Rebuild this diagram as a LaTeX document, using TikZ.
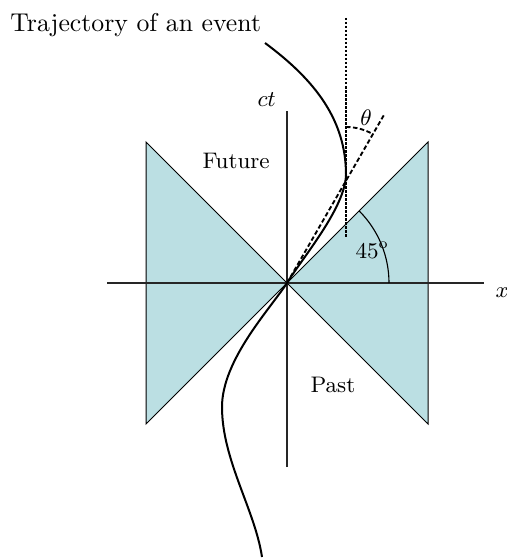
\documentclass[tikz,border=0pt]{standalone}
\usepackage{tikz}
\usetikzlibrary{calc}
\definecolor{conefill}{RGB}{187,223,227}
\begin{document}
\begin{tikzpicture}[x=0.4pt,y=0.4pt,
  cone/.style={fill=conefill,draw=black,line width=0.4pt},
  axis/.style={draw=black!85,line width=0.45pt},
  traj/.style={line width=0.8pt},
  tangent/.style={line width=0.75pt,dash pattern=on 1.8pt off 1pt},
  vert/.style={line width=1pt,dash pattern=on 1pt off 0.6pt},
  lbl/.style={inner sep=0pt,font=\fontsize{9}{11}\selectfont}]
\useasboundingbox (0,0) rectangle (506,-559);
% key coordinates
\coordinate (O) at (287,-283);
\coordinate (RT) at (428,-142);
\coordinate (RB) at (428,-424);
\coordinate (LT) at (146,-142);
\coordinate (LB) at (146,-424);
\coordinate (xl) at (107,-283);
\coordinate (xr) at (484,-283);
\coordinate (yb) at (287,-467);
\coordinate (yt) at (287,-111);
\coordinate (vt) at (346,-18);
\coordinate (vb) at (346,-237);
\coordinate (T) at (346,-181);
\coordinate (te) at (384.5,-114);
\coordinate (c0) at (265,-43);
\coordinate (c1) at (346,-175);
\coordinate (c3) at (222,-407);
\coordinate (c4) at (262,-557);
% cones
\path[cone] (O) -- (RT) -- (RB) -- cycle;
\path[cone] (O) -- (LT) -- (LB) -- cycle;
% axes
\draw[axis] (xl) -- (xr);
\draw[axis] (yb) -- (yt);
% 45 degree arc
\draw[line width=0.45pt] ($(O)+(102,0)$) arc[start angle=0,end angle=45,radius=102];
% trajectory
\draw[traj] (c0) .. controls (315,-80) and (346,-120) .. (c1)
  .. controls (345,-208) and (303,-257) .. (O)
  .. controls (270,-309) and (222,-360) .. (c3)
  .. controls (222,-460) and (255,-510) .. (c4);
% vertical dotted line and tangent
\draw[vert] (vt) -- (vb);
\draw[tangent] (O) -- (te);
\draw[tangent] ($(T)+(0,54)$) arc[start angle=90,end angle=60,radius=54];
% labels
\node[anchor=base west,inner sep=0pt,font=\fontsize{10.3}{12}\selectfont] (title) at (10,-32) {Trajectory of an event};
\node[lbl,anchor=base west] (future) at (202,-169) {Future};
\node[lbl,anchor=base west] (past) at (310,-392) {Past};
\node[lbl,anchor=base west] (ct) at (257,-107) {$ct$};
\node[lbl,anchor=base west] (xlab) at (495,-297) {$x$};
\node[lbl] (theta) at (366,-118) {$\theta$};
\node[lbl,anchor=base west] (ang) at (355,-258) {$45^{\mathrm{o}}$};
\end{tikzpicture}
\end{document}
